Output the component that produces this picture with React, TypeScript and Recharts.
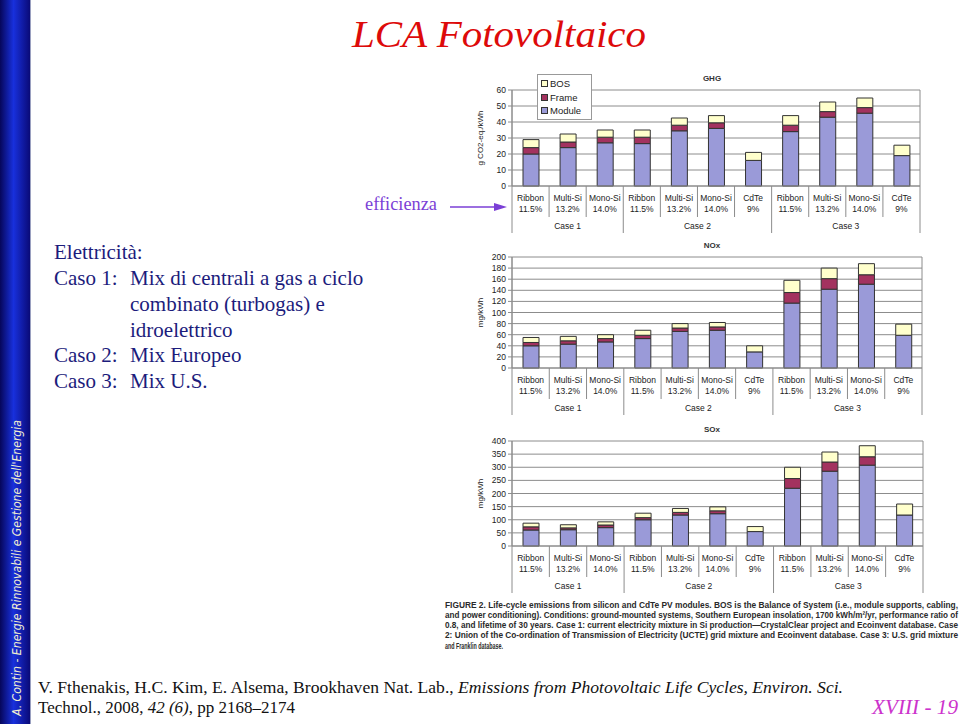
import React from "react";
import { BarChart, Bar, XAxis, YAxis, CartesianGrid, Legend, Label } from "recharts";

const categories = ["Ribbon", "Multi-Si", "Mono-Si", "Ribbon", "Multi-Si", "Mono-Si", "CdTe", "Ribbon", "Multi-Si", "Mono-Si", "CdTe"];
const efficiencies = ["11.5%", "13.2%", "14.0%", "11.5%", "13.2%", "14.0%", "9%", "11.5%", "13.2%", "14.0%", "9%"];
const caseNames = ["Case 1", "Case 2", "Case 3"];
const caseSizes = [3, 4, 4];
const legendOrder = ["BOS", "Frame", "Module"];

const ghgModule = [20, 24, 27, 26.5, 34.5, 36, 16, 34, 43, 45.5, 19];
const ghgFrame = [4, 3.5, 3.5, 4, 3.5, 3.5, 0, 4, 3.5, 3.5, 0];
const ghgBos = [5, 5, 4.5, 4.5, 4.5, 4.5, 5, 6, 6, 6, 6.5];
const ghgTicks = [0, 10, 20, 30, 40, 50, 60];

const noxModule = [40, 43, 47, 53, 66, 68, 29, 117, 142, 151, 59];
const noxFrame = [6, 6, 6, 6, 6, 6, 0, 19, 19, 17, 0];
const noxBos = [9, 8, 7, 9, 8, 8, 11, 22, 19, 20, 20];
const noxTicks = [0, 20, 40, 60, 80, 100, 120, 140, 160, 180, 200];

const soxModule = [61, 62, 70, 100, 118, 123, 55, 220, 285, 308, 118];
const soxFrame = [12, 7, 10, 8, 10, 11, 0, 37, 35, 32, 0];
const soxBos = [14, 12, 12, 17, 15, 15, 19, 43, 38, 42, 42];
const soxTicks = [0, 50, 100, 150, 200, 250, 300, 350, 400];

const COL_MODULE = "#9a9ad8";
const COL_FRAME = "#a3325f";
const COL_BOS = "#ffffcc";
const AX = "#8c8c8c";
const FONT = "'Liberation Sans', Arial, sans-serif";

// case geometry derived from caseSizes
const caseStarts: number[] = [];
caseSizes.reduce((acc, s) => { caseStarts.push(acc); return acc + s; }, 0);
const totalCats = categories.length;
const caseMids = caseStarts.map((s, i) => s + caseSizes[i] / 2);

function buildData(mod: number[], frame: number[], bos: number[]) {
  return categories.map((c, i) => ({
    key: `${i}-${c}`,
    module: mod[i],
    frame: frame[i],
    bos: bos[i],
  }));
}

const CAT_H = 31;
const CASE_H = 17;

function makeTick(bw: number) {
  return (props: any) => {
    const { x, y, index } = props;
    const left = x - bw / 2;
    const right = x + bw / 2;
    const isCaseStart = caseStarts.includes(index);
    const isLast = index === totalCats - 1;
    const ci = caseMids.findIndex((m) => Math.floor(m) === index);
    const caseX = ci >= 0 ? x + (caseMids[ci] - (index + 0.5)) * bw : 0;
    return (
      <g>
        <line x1={left} x2={left} y1={y} y2={y + (isCaseStart ? CAT_H + 16 : CAT_H)} stroke={AX} strokeWidth={1} />
        {isLast && <line x1={right} x2={right} y1={y} y2={y + CAT_H + 16} stroke={AX} strokeWidth={1} />}
        <text x={x} y={y + 15} textAnchor="middle" fontSize={8.5} fontFamily={FONT} fill="#222">
          {categories[index]}
        </text>
        <text x={x} y={y + 26} textAnchor="middle" fontSize={8.5} fontFamily={FONT} fill="#222">
          {efficiencies[index]}
        </text>
        {ci >= 0 && (
          <text x={caseX} y={y + CAT_H + 12} textAnchor="middle" fontSize={8.5} fontFamily={FONT} fill="#222">
            {caseNames[ci]}
          </text>
        )}
      </g>
    );
  };
}

const LegendBox = (props: any) => {
  const payload = [...(props.payload || [])].sort(
    (a: any, b: any) => legendOrder.indexOf(a.value) - legendOrder.indexOf(b.value)
  );
  return (
    <div
      style={{
        border: "1px solid #999",
        background: "#fff",
        boxSizing: "border-box",
        width: 55,
        height: 46,
        padding: "2px 3px",
        fontFamily: FONT,
        fontSize: 9.5,
        lineHeight: "13px",
        color: "#222",
      }}
    >
      {payload.map((p: any) => (
        <div key={p.value} style={{ display: "flex", alignItems: "center", height: 13.5 }}>
          <span
            style={{
              display: "inline-block",
              width: 5,
              height: 5,
              background: p.color,
              border: "1px solid #333",
              marginRight: 2,
            }}
          />
          {p.value}
        </div>
      ))}
    </div>
  );
};

type ChartProps = {
  plotTop: number;
  plotBottom: number;
  plotRight: number;
  marginTop: number;
  mod: number[];
  frame: number[];
  bos: number[];
  ticks: number[];
  yLabel: string;
  title: string;
  legend?: boolean;
};

const LEFT = 470;
const Y_W = 42;

function EmissionChart(p: ChartProps) {
  const data = buildData(p.mod, p.frame, p.bos);
  const plotH = p.plotBottom - p.plotTop;
  const height = p.marginTop + plotH + CAT_H + CASE_H + 2;
  const width = p.plotRight - LEFT + 2;
  const top = p.plotTop - p.marginTop;
  const bw = (p.plotRight - LEFT - Y_W) / totalCats;
  const Tick = makeTick(bw);
  return (
    <div style={{ position: "absolute", left: LEFT, top, width, height }}>
      <BarChart
        width={width}
        height={height}
        data={data}
        margin={{ top: p.marginTop, right: 2, bottom: 2, left: 0 }}
        barSize={16}
      >
        <CartesianGrid
          stroke={AX}
          strokeWidth={1}
          verticalCoordinatesGenerator={(args: any) => [args.offset.left, args.offset.left + args.offset.width]}
        />
        <XAxis
          dataKey="key"
          height={CAT_H + CASE_H}
          interval={0}
          tickSize={0}
          tickMargin={0}
          tickLine={false}
          axisLine={{ stroke: AX }}
          tick={<Tick />}
        />
        <YAxis
          width={Y_W}
          domain={[0, p.ticks[p.ticks.length - 1]]}
          ticks={p.ticks}
          interval={0}
          tickSize={4}
          tickMargin={2}
          axisLine={{ stroke: AX }}
          tickLine={{ stroke: AX }}
          tick={{ fontSize: 8.5, fontFamily: FONT, fill: "#222" }}
        >
          <Label
            content={(lp: any) => {
              const vb = lp.viewBox;
              const cx = vb.x + 13;
              const cy = vb.y + vb.height / 2;
              return (
                <text
                  x={cx}
                  y={cy}
                  transform={`rotate(-90 ${cx} ${cy})`}
                  textAnchor="middle"
                  fontSize={8}
                  fontFamily={FONT}
                  fill="#222"
                >
                  {p.yLabel}
                </text>
              );
            }}
          />
        </YAxis>
        {p.legend && (
          <Legend
            layout="vertical"
            align="center"
            verticalAlign="middle"
            content={<LegendBox />}
            wrapperStyle={{ left: 67, top: 4, width: 55, height: 46 }}
          />
        )}
        <Bar dataKey="module" name="Module" stackId="a" fill={COL_MODULE} stroke="#333" strokeWidth={1} isAnimationActive={false} />
        <Bar dataKey="frame" name="Frame" stackId="a" fill={COL_FRAME} stroke="#333" strokeWidth={1} isAnimationActive={false} />
        <Bar dataKey="bos" name="BOS" stackId="a" fill={COL_BOS} stroke="#333" strokeWidth={1} isAnimationActive={false} />
      </BarChart>
      <div
        style={{
          position: "absolute",
          left: 0,
          width: 2 * (712 - LEFT),
          top: p.marginTop - 16,
          textAlign: "center",
          fontFamily: FONT,
          fontWeight: "bold",
          fontSize: 8,
          color: "#333",
        }}
      >
        {p.title}
      </div>
    </div>
  );
}

const caption = [
  "FIGURE  2. Life-cycle emissions from silicon and CdTe PV modules. BOS is the Balance of System (i.e., module supports, cabling,",
  "and power conditioning). Conditions: ground-mounted systems, Southern European insolation, 1700 kWh/m\u00b2/yr, performance ratio of",
  "0.8, and lifetime of 30 years. Case 1: current electricity mixture in Si production\u2014CrystalClear project and Ecoinvent database. Case",
  "2: Union of the Co-ordination of Transmission of Electricity (UCTE) grid mixture and Ecoinvent database. Case 3: U.S. grid mixture",
  "and Franklin database.",
];

const SERIF = "'Liberation Serif', 'Times New Roman', serif";
const NAVY = "#1c1c7c";

export default function App() {
  return (
    <div
      style={{
        position: "absolute",
        left: 0,
        top: 0,
        width: 960,
        height: 724,
        background: "#fff",
        overflow: "hidden",
      }}
    >
      <EmissionChart
        plotTop={90}
        plotBottom={186}
        plotRight={920}
        marginTop={20}
        mod={ghgModule}
        frame={ghgFrame}
        bos={ghgBos}
        ticks={ghgTicks}
        yLabel="g CO2-eq./kWh"
        title="GHG"
        legend
      />
      <EmissionChart
        plotTop={257}
        plotBottom={368}
        plotRight={922}
        marginTop={16}
        mod={noxModule}
        frame={noxFrame}
        bos={noxBos}
        ticks={noxTicks}
        yLabel="mg/kWh"
        title="NOx"
      />
      <EmissionChart
        plotTop={441}
        plotBottom={546}
        plotRight={923}
        marginTop={16}
        mod={soxModule}
        frame={soxFrame}
        bos={soxBos}
        ticks={soxTicks}
        yLabel="mg/kWh"
        title="SOx"
      />
      <svg
        width={960}
        height={724}
        style={{ position: "absolute", left: 0, top: 0, pointerEvents: "none" }}
      >
        <defs>
          <linearGradient id="band" x1="0" x2="1" y1="0" y2="0">
            <stop offset="0" stopColor="#06065a" />
            <stop offset="0.45" stopColor="#1830dc" />
            <stop offset="1" stopColor="#0a0a78" />
          </linearGradient>
        </defs>
        <rect x={0} y={0} width={30} height={724} fill="url(#band)" />
        <line x1={30.5} x2={30.5} y1={0} y2={724} stroke="#9aa0c0" strokeWidth={1} />
        <text
          x={21}
          y={716}
          transform="rotate(-90 21 716)"
          fontFamily="'DejaVu Sans', sans-serif"
          fontStyle="italic"
          fontSize={12}
          fill="#f4f0d0"
          textLength={296}
          lengthAdjust="spacingAndGlyphs"
        >
          A. Contin - Energie Rinnovabili e Gestione dell'Energia
        </text>

        <text
          x={352}
          y={47}
          fontFamily={SERIF}
          fontStyle="italic"
          fontSize={37}
          fill="#dd0a0a"
          textLength={294}
          lengthAdjust="spacingAndGlyphs"
        >
          LCA Fotovoltaico
        </text>

        <g fontFamily={SERIF} fontSize={21} fill={NAVY}>
          <text x={54} y={259}>Elettricità:</text>
          <text x={54} y={285}>Caso 1:</text>
          <text x={130} y={285}>Mix di centrali a gas a ciclo</text>
          <text x={130} y={311}>combinato (turbogas) e</text>
          <text x={130} y={337}>idroelettrico</text>
          <text x={54} y={362}>Caso 2:</text>
          <text x={130} y={362}>Mix Europeo</text>
          <text x={54} y={388}>Caso 3:</text>
          <text x={130} y={388}>Mix U.S.</text>
        </g>

        <text x={365} y={210} fontFamily={SERIF} fontSize={18} fill="#7b3fd6" textLength={72} lengthAdjust="spacingAndGlyphs">
          efficienza
        </text>
        <line x1={450} x2={496} y1={207} y2={207} stroke="#7b3fd6" strokeWidth={1.5} />
        <polygon points="507,207 494,203 494,211" fill="#7b3fd6" />

        <g fontFamily={FONT} fontWeight="bold" fontSize={7.8} fill="#2a2a2a">
          {caption.map((line, i) => (
            <text
              key={i}
              x={0}
              y={0}
              transform={`translate(445 ${607.5 + i * 10.3}) scale(1 1.22)`}
              textLength={i < 4 ? 513 : 58}
              lengthAdjust="spacingAndGlyphs"
            >
              {line}
            </text>
          ))}
        </g>

        <g fontFamily={SERIF} fontSize={17} fill="#111">
          <text x={38} y={693} textLength={805} lengthAdjust="spacingAndGlyphs">
            V. Fthenakis, H.C. Kim, E. Alsema, Brookhaven Nat. Lab.,{" "}
            <tspan fontStyle="italic">Emissions from Photovoltaic Life Cycles, Environ. Sci.</tspan>
          </text>
          <text x={38} y={713} textLength={257} lengthAdjust="spacingAndGlyphs">
            Technol., 2008, <tspan fontStyle="italic">42 (6)</tspan>, pp 2168–2174
          </text>
        </g>

        <text
          x={872}
          y={714}
          fontFamily={SERIF}
          fontStyle="italic"
          fontSize={20}
          fill="#cc33cc"
          textLength={86}
          lengthAdjust="spacingAndGlyphs"
        >
          XVIII - 19
        </text>
      </svg>
    </div>
  );
}
